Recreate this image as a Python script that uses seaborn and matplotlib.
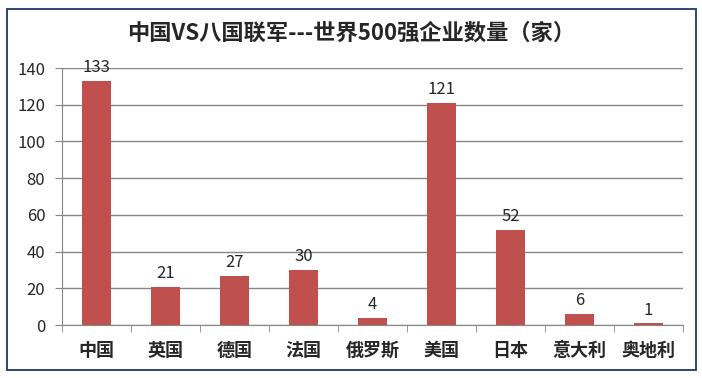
import matplotlib
matplotlib.use("Agg")
import matplotlib.pyplot as plt
import seaborn as sns
import pandas as pd
from matplotlib.patches import Rectangle

countries = ["中国", "英国", "德国", "法国", "俄罗斯", "美国", "日本", "意大利", "奥地利"]
counts = [133, 21, 27, 30, 4, 121, 52, 6, 1]
title = "中国VS八国联军---世界500强企业数量（家）"

df = pd.DataFrame({"country": countries, "count": counts})

sns.set_style("white")
plt.rcParams['font.family'] = ['Noto Sans CJK SC', 'DejaVu Sans']

fig = plt.figure(figsize=(7.02, 3.78), dpi=100)
ax = fig.add_axes([0.0883, 0.140, 0.8847, 0.680])

sns.barplot(data=df, x="country", y="count", color="#C0504D", saturation=1,
            width=0.41, linewidth=0, ax=ax)

ax.set_ylim(0, 140)
ax.set_xlim(-0.5, len(countries) - 0.5)
ax.set_yticks(range(0, 141, 20))
ax.yaxis.grid(True, color="#868686", linewidth=1)
ax.set_axisbelow(True)
ax.set_xlabel("")
ax.set_ylabel("")

for s in ["top", "right"]:
    ax.spines[s].set_visible(False)
ax.spines["left"].set_color("#868686")
ax.spines["bottom"].set_color("#868686")

ax.tick_params(axis="y", left=True, length=5, color="#868686", labelsize=12, pad=7)
ax.set_xticks([i + 0.5 for i in range(-1, len(countries))], minor=True)
ax.tick_params(axis="x", which="major", bottom=False, labelsize=13, pad=8)
ax.tick_params(axis="x", which="minor", bottom=True, length=5, color="#868686")
for lbl in ax.get_xticklabels():
    lbl.set_fontweight("bold")

for i, v in enumerate(counts):
    ax.text(i, v + 2.5, str(v), ha="center", va="bottom", fontsize=12)

fig.text(0.5, 0.913, title, ha="center", va="center", fontsize=16, fontweight="bold")

fig.patches.append(Rectangle((7 / 702, 1 - 370 / 378), 689 / 702, 361 / 378,
                             transform=fig.transFigure, fill=False,
                             edgecolor="#1F3864", linewidth=1.3))

fig.savefig("out.png", dpi=100)
